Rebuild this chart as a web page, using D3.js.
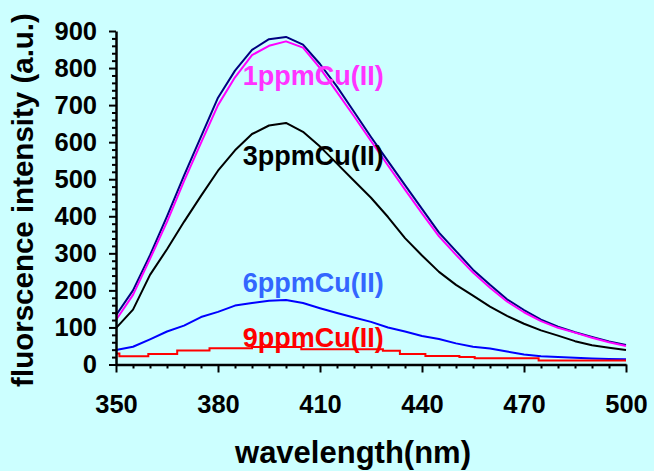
<!DOCTYPE html>
<html>
<head>
<meta charset="utf-8">
<script src="https://cdn.jsdelivr.net/npm/d3@7"></script>
<style>
  html, body { margin: 0; padding: 0; background: #ccffff; }
  svg { display: block; }
  text { font-family: "Liberation Sans", Arial, sans-serif; font-weight: bold; }
</style>
</head>
<body>
<div id="chart"></div>
<script>
// ---- data ----
const wavelengths = [350,355,360,365,370,375,380,385,390,395,400,405,410,415,420,425,430,435,440,445,450,455,460,465,470,475,480,485,490,495,500];
const blank  = [133,200,295,400,510,615,720,793,849,878,884,863,811,750,682,614,549,484,420,356,306,256,215,176,147,121,102,87,74,62,53];
const cu1ppm = [120,188,285,385,495,598,700,775,835,860,872,855,800,735,670,603,537,472,408,346,296,248,207,170,141,117,99,86,72,60,50];
const cu3ppm = [98,148,242,311,385,455,523,578,622,645,652,628,588,542,496,450,398,341,294,250,215,186,156,131,110,92,78,63,52,45,39];
const cu6ppm = [39,48,68,89,105,128,142,159,166,172,174,166,152,139,127,115,100,89,77,69,57,48,43,35,27,22,20,18,16,15,14];
const cu9ppmWavelengths = [350,351,359.5,368,377.5,390,404.5,428.5,433.5,441,451,455.5,474.3,500];
const cu9ppm = [30,22,28,38,44,47,41,37,28,23,20,17,11,11];

const labelNames = ["1ppmCu(II)","3ppmCu(II)","6ppmCu(II)","9ppmCu(II)"];
const labelX = [408,408,408,408];
const labelY = [754,539,196,48];
const labelColors = ["#ff33ff","#000000","#3366ff","#ff0000"];

const xTicks = [350,380,410,440,470,500];
const yTicks = [0,100,200,300,400,500,600,700,800,900];

// ---- layout ----
const W = 654, H = 471;
const mLeft = 116, mRight = 626, mTop = 31, mBottom = 364.5;

const svg = d3.select("#chart").append("svg").attr("width", W).attr("height", H);
svg.append("rect").attr("width", W).attr("height", H).attr("fill", "#ccffff");

const x = d3.scaleLinear().domain([350, 500]).range([mLeft, mRight]);
const y = d3.scaleLinear().domain([0, 900]).range([mBottom, mTop]);

const line = d3.line().x(d => x(d[0])).y(d => y(d[1]));
const stepLine = d3.line().x(d => x(d[0])).y(d => y(d[1])).curve(d3.curveStepAfter);

const series = [
  {vals: blank,  color: "#000080"},
  {vals: cu1ppm, color: "#ff00ff"},
  {vals: cu3ppm, color: "#000000"},
  {vals: cu6ppm, color: "#0000ff"}
];
series.forEach(s => {
  svg.append("path")
    .datum(wavelengths.map((w, i) => [w, s.vals[i]]))
    .attr("fill", "none").attr("stroke", s.color).attr("stroke-width", 2)
    .attr("stroke-linejoin", "round")
    .attr("d", line);
});
svg.append("path")
  .datum(cu9ppmWavelengths.map((w, i) => [w, cu9ppm[i]]))
  .attr("fill", "none").attr("stroke", "#ff0000").attr("stroke-width", 2)
  .attr("d", stepLine);

// labels
labelNames.forEach((t, i) => {
  svg.append("text")
    .attr("x", x(labelX[i])).attr("y", y(labelY[i]))
    .attr("text-anchor", "middle")
    .attr("font-size", 27)
    .attr("fill", labelColors[i])
    .text(t);
});

// ---- axes ----
const xMinor = d3.range(350, 501, 5).filter(v => !xTicks.includes(v));
const yMinor = d3.range(0, 901, 20).filter(v => !yTicks.includes(v));

const gx = svg.append("g").attr("transform", `translate(0,${mBottom})`);
gx.call(d3.axisBottom(x).tickValues(xMinor).tickSize(4).tickFormat(""));
gx.call(g => g.selectAll(".domain").remove());
const gx2 = svg.append("g").attr("transform", `translate(0,${mBottom})`);
gx2.call(d3.axisBottom(x).tickValues(xTicks).tickSize(8).tickPadding(22).tickSizeOuter(0).tickFormat(d3.format("d")));

const gy = svg.append("g").attr("transform", `translate(${mLeft},0)`);
gy.call(d3.axisLeft(y).tickValues(yMinor).tickSize(4).tickFormat(""));
gy.call(g => g.selectAll(".domain").remove());
const gy2 = svg.append("g").attr("transform", `translate(${mLeft},0)`);
gy2.call(d3.axisLeft(y).tickValues(yTicks).tickSize(7).tickPadding(12).tickSizeOuter(0).tickFormat(d3.format("d")));

svg.selectAll(".domain").attr("stroke", "#000").attr("stroke-width", 2.5);
svg.selectAll(".tick line").attr("stroke", "#000").attr("stroke-width", 2);
svg.selectAll(".tick text")
  .attr("fill", "#000")
  .style("font-family", '"Liberation Sans", Arial, sans-serif')
  .style("font-weight", "bold")
  .style("font-size", "25.5px");

// axis titles
svg.append("text")
  .attr("x", 353).attr("y", 463)
  .attr("text-anchor", "middle")
  .attr("font-size", 31)
  .attr("fill", "#000")
  .text("wavelength(nm)");

svg.append("text")
  .attr("transform", `translate(33,200) rotate(-90)`)
  .attr("text-anchor", "middle")
  .attr("font-size", 29.5)
  .attr("fill", "#000")
  .text("fluorscence intensity (a.u.)");
</script>
</body>
</html>
